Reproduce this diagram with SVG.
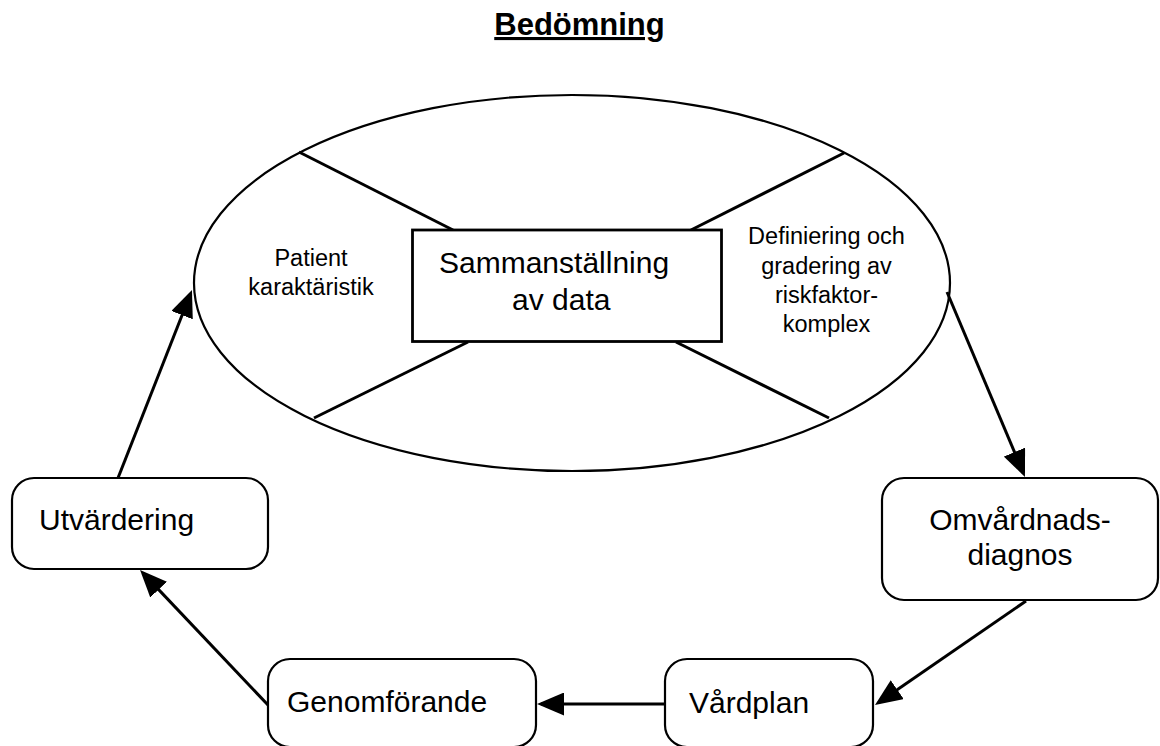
<svg xmlns="http://www.w3.org/2000/svg" width="1160" height="746" viewBox="0 0 1160 746">
  <style>
    text { font-family: "Liberation Sans", Arial, Helvetica, sans-serif; fill: #000; }
    .big { font-size: 30px; }
    .small { font-size: 23.5px; }
    .title { font-size: 31px; font-weight: bold; text-decoration: underline; }
    .box { fill: #fff; stroke: #000; stroke-width: 2.2; }
    .cross { stroke: #000; stroke-width: 3; }
    .conn { stroke: #000; stroke-width: 3; fill: none; marker-end: url(#arrow); }
  </style>
  <defs>
    <marker id="arrow" markerUnits="userSpaceOnUse" markerWidth="27" markerHeight="23" refX="23" refY="11.5" orient="auto">
      <path d="M0,0 L27,11.5 L0,23 Z" fill="#000"/>
    </marker>
  </defs>
  <rect width="1160" height="746" fill="#fff"/>

  <g id="title">
    <text class="title" x="579.5" y="35" text-anchor="middle">Bedömning</text>
  </g>

  <g id="bedomning">
    <ellipse cx="572" cy="283" rx="378" ry="188" fill="#fff" stroke="#000" stroke-width="2.2"/>
    <line class="cross" x1="299" y1="152" x2="453" y2="230"/>
    <line class="cross" x1="844" y1="153" x2="691" y2="230"/>
    <line class="cross" x1="314" y1="418" x2="468" y2="342"/>
    <line class="cross" x1="829" y1="418" x2="676" y2="342"/>
    <text class="small" x="311" y="266" text-anchor="middle">Patient</text>
    <text class="small" x="311" y="295" text-anchor="middle">karaktäristik</text>
    <text class="small" x="826.5" y="244" text-anchor="middle">Definiering och</text>
    <text class="small" x="826.5" y="274" text-anchor="middle">gradering av</text>
    <text class="small" x="826.5" y="303" text-anchor="middle">riskfaktor-</text>
    <text class="small" x="826.5" y="332" text-anchor="middle">komplex</text>
  </g>

  <g id="sammanstallning">
    <rect x="412.5" y="230" width="309" height="111.5" fill="#fff" stroke="#000" stroke-width="2.8"/>
    <text class="big" x="439" y="273">Sammanställning</text>
    <text class="big" x="512" y="310">av data</text>
  </g>

  <g id="omvardnadsdiagnos">
    <rect class="box" x="882" y="478" width="276" height="122" rx="22" ry="22"/>
    <text class="big" x="1020" y="530" text-anchor="middle">Omvårdnads-</text>
    <text class="big" x="1020" y="565" text-anchor="middle">diagnos</text>
  </g>

  <g id="vardplan">
    <rect class="box" x="665" y="659" width="208" height="88" rx="22" ry="22"/>
    <text class="big" x="689" y="713">Vårdplan</text>
  </g>

  <g id="genomforande">
    <rect class="box" x="268" y="659" width="268" height="88" rx="22" ry="22"/>
    <text class="big" x="287" y="712">Genomförande</text>
  </g>

  <g id="utvardering">
    <rect class="box" x="12" y="478" width="256" height="91" rx="22" ry="22"/>
    <text class="big" x="39" y="530">Utvärdering</text>
  </g>

  <g id="connectors">
    <line class="conn" x1="118" y1="478" x2="190.5" y2="293.7"/>
    <line class="conn" x1="947" y1="292" x2="1023.4" y2="473.3"/>
    <line class="conn" x1="1026" y1="601" x2="878.3" y2="702.7"/>
    <line class="conn" x1="665" y1="704" x2="541" y2="704"/>
    <line class="conn" x1="268" y1="705" x2="142.8" y2="572.9"/>
  </g>
</svg>
